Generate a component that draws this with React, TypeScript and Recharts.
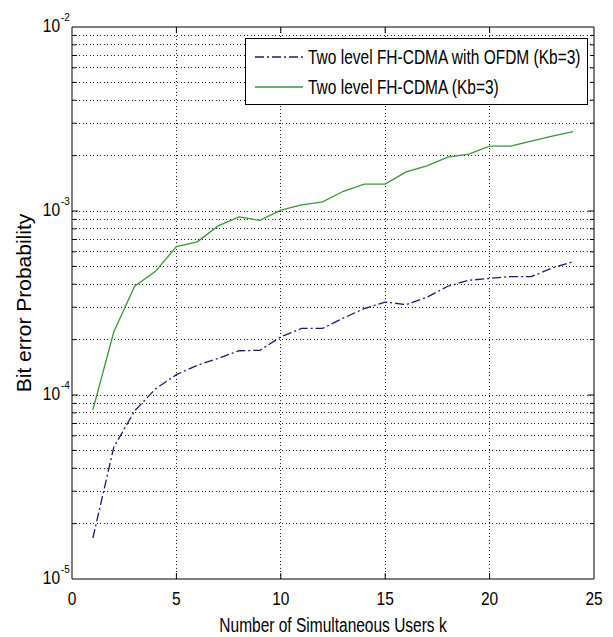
import { LineChart, Line, XAxis, YAxis, ReferenceLine, Legend } from "recharts";

// Bit error probability vs. number of simultaneous users
const users = [1, 2, 3, 4, 5, 6, 7, 8, 9, 10, 11, 12, 13, 14, 15, 16, 17, 18, 19, 20, 21, 22, 23, 24];
const ofdmBer = [
  1.67e-5, 5.2e-5, 8.2e-5, 1.08e-4, 1.29e-4, 1.45e-4, 1.58e-4, 1.74e-4, 1.75e-4, 2.07e-4, 2.3e-4, 2.3e-4,
  2.62e-4, 2.95e-4, 3.2e-4, 3.1e-4, 3.4e-4, 3.9e-4, 4.2e-4, 4.3e-4, 4.4e-4, 4.4e-4, 4.9e-4, 5.3e-4,
];
const fhBer = [
  8.3e-5, 2.2e-4, 3.9e-4, 4.7e-4, 6.4e-4, 6.8e-4, 8.3e-4, 9.3e-4, 8.9e-4, 1.01e-3, 1.08e-3, 1.12e-3,
  1.28e-3, 1.4e-3, 1.4e-3, 1.63e-3, 1.76e-3, 1.96e-3, 2.04e-3, 2.25e-3, 2.25e-3, 2.4e-3, 2.55e-3, 2.7e-3,
];
const seriesNames = ["Two level FH-CDMA with OFDM (Kb=3)", "Two level FH-CDMA (Kb=3)"];

const xTicks = [0, 5, 10, 15, 20, 25];
const xGrid = [5, 10, 15, 20];
const yTicks = [1e-5, 1e-4, 1e-3, 1e-2];
const yDecades = [1e-5, 1e-4, 1e-3];
const yMantissas = [2, 3, 4, 5, 6, 7, 8, 9];

const FONT = "'Liberation Sans', Arial, Helvetica, sans-serif";
const BLUE = "#1c1c6a";
const GREEN = "#3c963c";
const DASHDOT = "9 3 2 3";

const W = 613;
const H = 637;
const M = { top: 27, right: 19, left: 10, bottom: 0 };
const Y_W = 62;
const X_H = 58;
const plotW = W - M.left - Y_W - M.right;
const plotH = H - M.top - X_H;

const data = users.map((k, i) => ({ k, ofdm: ofdmBer[i], fh: fhBer[i] }));
const yMinor = yDecades.flatMap((d) => yMantissas.map((m) => m * d));
const yGrid = [...yTicks.slice(1, -1), ...yMinor];

// tick mark lengths converted to data units so they go through the scales
const xLen = (px: number) => (px * 25) / plotW;
const yFac = (px: number) => Math.pow(10, (px * 3) / plotH);

function XTick({ x, y, payload }: any) {
  return (
    <g transform={`translate(${x},${y + 26}) scale(1,1.2)`}>
      <text textAnchor="middle" fontSize={15.5} fill="#000" fontFamily={FONT}>
        {payload.value}
      </text>
    </g>
  );
}

function YTick({ x, y, payload }: any) {
  const exp = Math.round(Math.log10(payload.value));
  return (
    <g transform={`translate(${x},${y})`} fontFamily={FONT} fill="#000">
      <text transform="scale(1,1.2)" y={4} textAnchor="end" fontSize={15.5}>
        10
      </text>
      <text x={1} y={-6} textAnchor="start" fontSize={10}>
        {exp}
      </text>
    </g>
  );
}

function XLabel({ viewBox }: any) {
  const { x, y, width } = viewBox;
  return (
    <g transform={`translate(${x + width / 2},${y + 53}) scale(1,1.3)`}>
      <text textAnchor="middle" fontSize={15.5} fill="#000" fontFamily={FONT}>
        Number of Simultaneous Users k
      </text>
    </g>
  );
}

function YLabel({ viewBox }: any) {
  const { x, y, height } = viewBox;
  const cx = x + 13;
  const cy = y + height / 2;
  return (
    <text
      x={cx}
      y={cy}
      transform={`rotate(-90, ${cx}, ${cy})`}
      textAnchor="middle"
      dominantBaseline="central"
      fontSize={21}
      fill="#000"
      fontFamily={FONT}
    >
      Bit error Probability
    </text>
  );
}

function LegendBox() {
  const rows = [
    { name: seriesNames[0], color: BLUE, dash: DASHDOT },
    { name: seriesNames[1], color: GREEN, dash: undefined },
  ];
  return (
    <svg width={343} height={67} style={{ display: "block" }}>
      <rect x={0.5} y={0.5} width={342} height={66} fill="#fff" stroke="#000" />
      {rows.map((r, i) => {
        const cy = 19 + i * 30;
        return (
          <g key={r.name}>
            <line x1={10} x2={58} y1={cy} y2={cy} stroke={r.color} strokeWidth={1.3} strokeDasharray={r.dash} />
            <g transform={`translate(63,${cy}) scale(1,1.3)`}>
              <text y={5.5} fontSize={15.5} fill="#000" fontFamily={FONT}>
                {r.name}
              </text>
            </g>
          </g>
        );
      })}
    </svg>
  );
}

export default function App() {
  const grid = { stroke: "#222", strokeDasharray: "1 2.5", strokeWidth: 1, shapeRendering: "crispEdges" };
  return (
    <div style={{ position: "absolute", left: 0, top: 0, background: "#fff" }}>
      <LineChart width={W} height={H} data={data} margin={M} style={{ fontFamily: FONT }}>
        <XAxis
          dataKey="k"
          type="number"
          domain={[0, 25]}
          ticks={xTicks}
          interval={0}
          height={X_H}
          tickSize={0}
          tickMargin={0}
          tickLine={false}
          axisLine={{ stroke: "#000" }}
          tick={<XTick />}
          label={<XLabel />}
        />
        <YAxis
          type="number"
          scale="log"
          domain={[1e-5, 1e-2]}
          ticks={yTicks}
          interval={0}
          width={Y_W}
          tickSize={0}
          tickMargin={12}
          tickLine={false}
          axisLine={{ stroke: "#000" }}
          allowDataOverflow
          tick={<YTick />}
          label={<YLabel />}
        />
        {xGrid.map((v) => (
          <ReferenceLine key={`gx${v}`} x={v} {...grid} />
        ))}
        {yGrid.map((v) => (
          <ReferenceLine key={`gy${v}`} y={v} {...grid} />
        ))}
        {/* inward tick marks, MATLAB style */}
        {yGrid.map((v) => {
          const len = xLen(yTicks.includes(v) ? 6 : 4);
          return [
            <ReferenceLine key={`tl${v}`} segment={[{ x: 0, y: v }, { x: len, y: v }]} stroke="#000" />,
            <ReferenceLine key={`tr${v}`} segment={[{ x: 25 - len, y: v }, { x: 25, y: v }]} stroke="#000" />,
          ];
        })}
        {xGrid.map((v) => [
          <ReferenceLine key={`tb${v}`} segment={[{ x: v, y: 1e-5 }, { x: v, y: 1e-5 * yFac(6) }]} stroke="#000" />,
          <ReferenceLine key={`tt${v}`} segment={[{ x: v, y: 1e-2 / yFac(6) }, { x: v, y: 1e-2 }]} stroke="#000" />,
        ])}
        <ReferenceLine y={1e-2} stroke="#000" />
        <ReferenceLine x={25} stroke="#000" />
        <Line
          type="linear"
          dataKey="ofdm"
          name={seriesNames[0]}
          stroke={BLUE}
          strokeWidth={1.3}
          strokeDasharray={DASHDOT}
          dot={false}
          isAnimationActive={false}
        />
        <Line
          type="linear"
          dataKey="fh"
          name={seriesNames[1]}
          stroke={GREEN}
          strokeWidth={1.3}
          dot={false}
          isAnimationActive={false}
        />
        <Legend
          layout="vertical"
          align="center"
          verticalAlign="middle"
          wrapperStyle={{ left: 245, top: 38, width: 343, height: 67 }}
          content={() => <LegendBox />}
        />
      </LineChart>
    </div>
  );
}
